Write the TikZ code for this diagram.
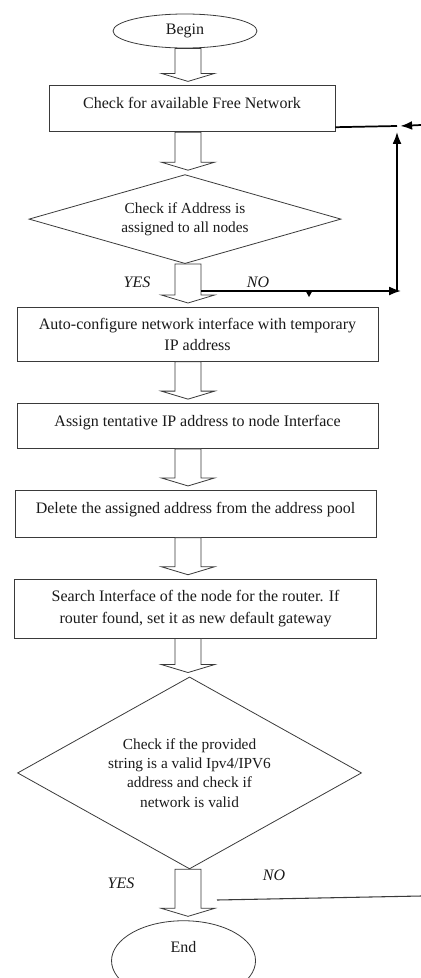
\documentclass[tikz,border=0pt]{standalone}
\usepackage{fontspec}
\setmainfont{Liberation Serif}
\usepackage{tikz}
\usetikzlibrary{arrows.meta,positioning,shapes.geometric,calc,decorations.markings}
\definecolor{ink}{HTML}{3A3A3A}
\definecolor{txt}{HTML}{1A1A1A}

% hollow block arrow between two nodes, along the spine
\newcommand\blockarr[2]{%
 \draw[blk] let \p1=(#1.south -| spine), \p2=(#2.north -| spine) in
  (\x1-9.75pt,\y1) -- (\x1-9.75pt,\y2+9pt) -- (\x1-20pt,\y2+9pt) -- (\x1,\y2+3pt)
  -- (\x1+20pt,\y2+9pt) -- (\x1+9.75pt,\y2+9pt) -- (\x1+9.75pt,\y1) -- cycle;}

\begin{document}
\begin{tikzpicture}[x=0.75pt,y=0.75pt,node distance=31pt,>=Latex,
 stepbox/.style={draw=ink,line width=.6pt,fill=white,inner sep=2pt,align=center,text=txt,font=\fontsize{12}{16}\selectfont},
 onel/.style={text height=9pt,text depth=9pt},
 cond/.style={diamond,draw=ink,line width=.6pt,inner sep=0pt,align=center,text=txt,font=\fontsize{11.5}{14.5}\selectfont},
 term/.style={ellipse,draw=ink,line width=.6pt,inner sep=0pt,minimum width=108pt,text=txt,font=\fontsize{12}{14}\selectfont},
 blk/.style={draw=ink,line width=.6pt,fill=white,line join=miter},
 back/.style={line width=1.3pt,black},
 lbl/.style={text=txt,font=\itshape\fontsize{12}{14}\selectfont}]
 \useasboundingbox (0,0) rectangle (421,-978);
 \coordinate (spine) at (188,0);

 \node[term,minimum height=25.5pt] (beg) at (185,-31) {Begin};
 \node[stepbox,onel,below=27.75pt of beg,xshift=5.25pt,minimum width=214.5pt,minimum height=34.5pt] (free) {Check for available Free Network};
 \node[cond,aspect=3.506,below=31.5pt of free,xshift=-5.25pt,minimum width=234pt,minimum height=66.75pt] (chk) {Check if Address is\\assigned to all nodes};
 \node[stepbox,below=32.25pt of chk,xshift=9.4pt,minimum width=270.75pt,minimum height=40.5pt] (auto) {Auto-configure network interface with temporary\\IP address};
 \node[stepbox,onel,below=of auto,minimum width=270.75pt,minimum height=33.75pt] (tent) {Assign tentative IP address to node Interface};
 \node[stepbox,onel,below=30.75pt of tent,xshift=-1.5pt,minimum width=270.75pt,minimum height=35.25pt] (del) {Delete the assigned address from the address pool};
 \node[stepbox,below=30.75pt of del,minimum width=271.5pt,minimum height=44.25pt] (rtr) {Search Interface of the node for the router. If\\router found, set it as new default gateway};
 \node[cond,aspect=1.792,below=28.5pt of rtr,xshift=-4.5pt,minimum width=258pt,minimum height=144pt] (valid) {Check if the provided\\string is a valid Ipv4/IPV6\\address and check if\\network is valid};
 \node[term,below=38.25pt of valid,xshift=-4.5pt,minimum height=60pt,text height=9pt,text depth=22pt] (fin) {End};

 \blockarr{beg}{free}
 \blockarr{free}{chk}
 \blockarr{chk}{auto}
 \blockarr{auto}{tent}
 \blockarr{tent}{del}
 \blockarr{del}{rtr}
 \blockarr{rtr}{valid}
 \blockarr{valid}{fin}

 \node[lbl] (yes1) at (137,-282) {YES};
 \node[lbl] (nolbl1) at (258,-282) {NO};
 \node[lbl] (yes2) at (121,-883) {YES};
 \node[lbl] (nolbl2) at (274,-875) {NO};

 % loop back on NO
 \coordinate (jn) at (397,-126);
 \coordinate (edge) at (421,-125);
 \coordinate (no1) at (201,-291);
 \coordinate (cnr) at (397,-291);
 \draw[back] ([yshift=3.75pt]free.south east) -- (jn);
 \draw[back,->] (edge) -- ([xshift=2.5pt]jn);
 \draw[back,->,postaction={decorate,decoration={markings,mark=at position .54 with {\fill (-2.5pt,0) -- (2.5pt,0) -- (0,-4.5pt) -- cycle;}}}] (no1) -- ([xshift=3pt]cnr);
 \draw[back,->] (cnr) -- ([yshift=-4.5pt]jn);

 \coordinate (no2) at (217,-900);
 \coordinate (edge2) at (421,-896);
 \draw[ink,line width=.8pt] (no2) -- (edge2);
\end{tikzpicture}
\end{document}
